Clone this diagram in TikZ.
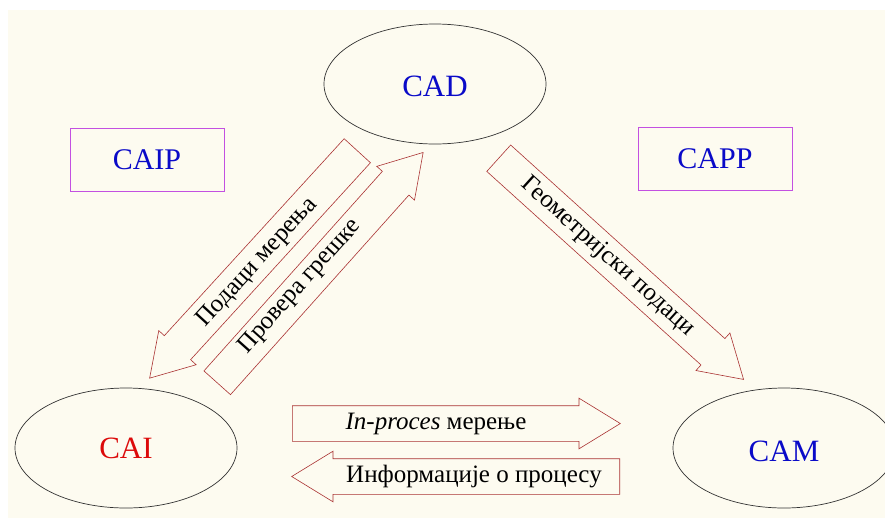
\documentclass[tikz,border=0pt]{standalone}
\usepackage{fontspec}
\setmainfont{Liberation Serif}
\usepackage{tikz}
\usetikzlibrary{shapes.geometric, shapes.arrows, positioning}
\definecolor{Paper}{RGB}{253,251,240}
\definecolor{SysBlue}{RGB}{10,10,200}
\definecolor{SysRed}{RGB}{220,10,10}
\definecolor{FrameViolet}{RGB}{195,80,225}
\definecolor{FlowRed}{RGB}{170,50,50}

\begin{document}
\begin{tikzpicture}[x=1pt, y=1pt,
            sys/.style={draw=black!80, line width=0.7pt, ellipse, minimum width=222pt, minimum height=120pt, inner sep=0pt, font=\fontsize{31}{31}\selectfont},
            aux/.style={draw=FrameViolet, line width=0.8pt, minimum width=154pt, minimum height=63pt, inner sep=0pt, text=SysBlue, font=\fontsize{30}{30}\selectfont},
            flow/.style={draw=FlowRed, line width=0.6pt, single arrow, inner xsep=0pt, inner ysep=17.5pt, single arrow head extend=7.5pt, single arrow tip angle=63, anchor=tail},
            flowtxt/.style={font=\fontsize{25}{25}\selectfont, inner sep=0pt}
        ]

        % Sheet
        \useasboundingbox (0,0) rectangle (885,-520);
        \fill[Paper] (8,-10) rectangle (885,-518);

        % Systems
        \node[sys, text=SysBlue, text height=26pt] (cad) at (435,-84) {CAD};
        \node[sys, text=SysRed] (cai) at (126,-448) {CAI};
        \node[sys, text=SysBlue, text height=28pt] (cam) at (784,-448) {CAM};

        \node[aux] (caip) at (147,-159.5) {CAIP};
        \node[aux] (capp) at (715,-158.5) {CAPP};

        % Flows between the systems
        \node[flow, rotate=227.6, minimum height=308pt] (meas) at (357.5,-150.5) {};
        \node[flowtxt, rotate=47.6] (meastxt) at (257.5,-262.7) {Подаци мерења};

        \node[flow, rotate=48.2, minimum height=309pt] (err) at (217,-383) {};
        \node[flowtxt, rotate=48.2] (errtxt) at (300,-286.5) {Провера грешке};

        \node[flow, rotate=-42.1, minimum height=330pt] (geom) at (498.5,-158) {};
        \node[flowtxt, rotate=-42.1] (geomtxt) at (608,-257) {Геометријски подаци};

        \node[flow, minimum height=328pt] (inproc) at (292,-423.5) {};
        \node[flowtxt] (inproctxt) at (436,-423.5) {\textit{In-proces} мерење};

        \node[flow, rotate=180, minimum height=328pt] (info) at (620,-476.5) {};
        \node[flowtxt] (infotxt) at (474,-476.5) {Информације о процесу};

        \end{tikzpicture}
\end{document}
